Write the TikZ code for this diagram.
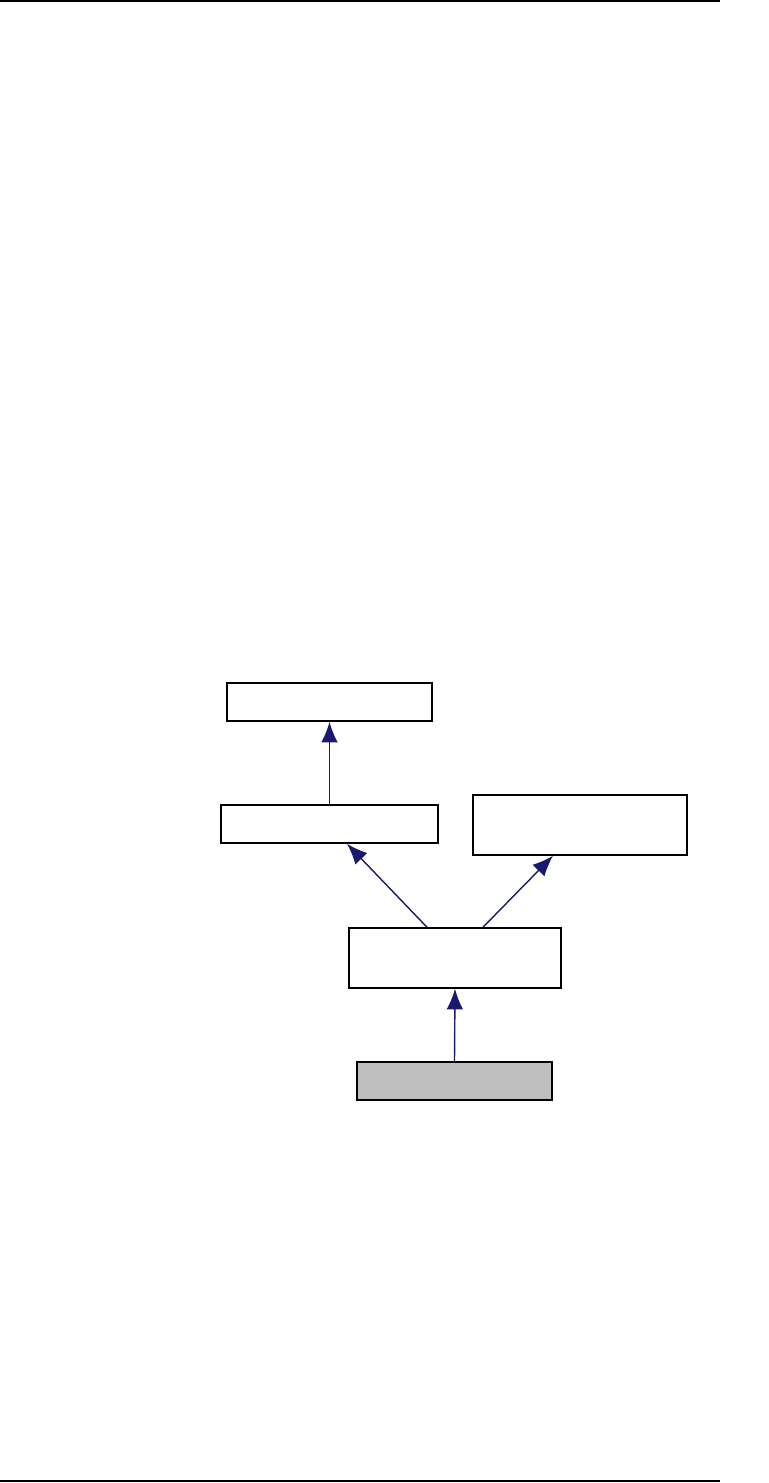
\documentclass[tikz,border=0pt]{standalone}
\usetikzlibrary{arrows.meta,calc}
\definecolor{edgeblue}{RGB}{25,25,112}
\begin{document}
\begin{tikzpicture}[x=0.03cm,y=-0.03cm,>={Latex[length=0.62cm,width=0.5cm]},
	box/.style={draw,line width=1.3pt,inner sep=0pt,fill=white},
	link/.style={->,edgeblue,line width=1.2pt}]
		\useasboundingbox (0,0) rectangle (769,1483);
		\draw[line width=1.3pt] (0,1) -- (720,1);\draw[line width=1.3pt] (0,1481) -- (720,1481);
		\node[box,minimum width=6.15cm,minimum height=1.14cm] (base) at (329.5,702) {};
		\node[box,minimum width=6.51cm,minimum height=1.14cm] (mid) at (329.5,824) {};
		\node[box,minimum width=6.42cm,minimum height=1.8cm] (side) at (580,825) {};
		\node[box,minimum width=6.36cm,minimum height=1.8cm] (derived) at (455,958) {};
		\node[box,fill=black!25,minimum width=5.85cm,minimum height=1.14cm] (leaf) at (454.5,1081) {};
		\draw[link] (mid.north) -- (base.south);
		\draw[link] ($(derived.north)+(-28,0)$) -- ($(mid.south)+(17.5,0)$);
		\draw[link] ($(derived.north)+(28,0)$) -- ($(side.south)+(-27,0)$);
		\draw[link] (leaf.north) -- (derived.south);
	\end{tikzpicture}
\end{document}
